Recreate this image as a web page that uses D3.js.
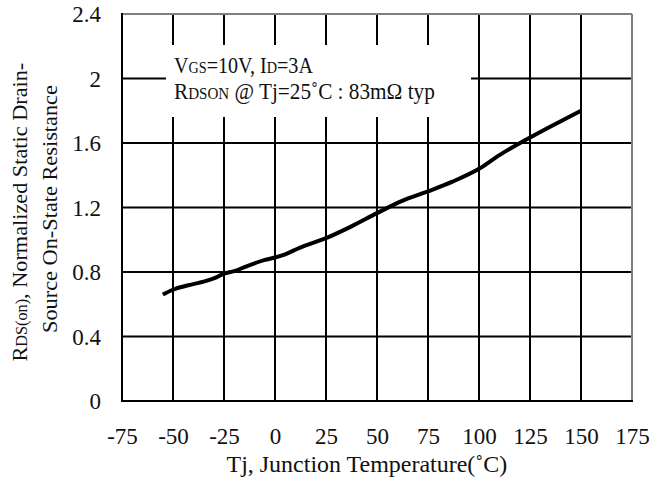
<!DOCTYPE html>
<html>
<head>
<meta charset="utf-8">
<script src="https://cdn.jsdelivr.net/npm/d3@7"></script>
<style>
  html, body { margin: 0; padding: 0; background: #fff; }
  svg { display: block; }
  text { font-family: "Liberation Serif", "Times New Roman", serif; }
</style>
</head>
<body>
<svg id="chart" width="663" height="482"></svg>
<script>
// Normalized on-resistance vs. junction temperature
const temps = [-55, -50, -40, -35, -30, -25, -20, -15, -5, 0, 5, 12, 25, 37, 50, 62, 75, 87, 100, 110, 123, 137, 150];
const rdsNorm = [0.66, 0.69, 0.725, 0.74, 0.76, 0.79, 0.805, 0.83, 0.875, 0.89, 0.91, 0.95, 1.01, 1.08, 1.165, 1.24, 1.30, 1.36, 1.44, 1.525, 1.62, 1.715, 1.80];

const xTicks = [-75, -50, -25, 0, 25, 50, 75, 100, 125, 150, 175];
const yTicks = [0, 0.4, 0.8, 1.2, 1.6, 2.0, 2.4];
const yTickLabels = ["0", "0.4", "0.8", "1.2", "1.6", "2", "2.4"];

const FONT = "Liberation Serif";
const INK = "#111";

const svg = d3.select("#chart");
const margin = { left: 122, right: 31, top: 14, bottom: 81 };
const W = 663, H = 482;

const x = d3.scaleLinear().domain([-75, 175]).range([margin.left, W - margin.right]);
const y = d3.scaleLinear().domain([0, 2.4]).range([H - margin.bottom, margin.top]);

const g = svg.append("g");

// grid
g.selectAll("line.vgrid").data(xTicks.slice(1, -1)).join("line")
  .attr("class", "vgrid")
  .attr("x1", d => x(d)).attr("x2", d => x(d))
  .attr("y1", y(2.4)).attr("y2", y(0))
  .attr("stroke", "#000").attr("stroke-width", 2);
g.selectAll("line.hgrid").data(yTicks.slice(1, -1)).join("line")
  .attr("class", "hgrid")
  .attr("x1", x(-75)).attr("x2", x(175))
  .attr("y1", d => y(d)).attr("y2", d => y(d))
  .attr("stroke", "#000").attr("stroke-width", 2);

// annotation backdrop
g.append("rect")
  .attr("x", 166).attr("y", 45).attr("width", 305).attr("height", 72)
  .attr("fill", "#fff");

// frame: top/right gray, left/bottom black
g.append("line").attr("x1", x(-75)).attr("x2", x(175)).attr("y1", y(2.4)).attr("y2", y(2.4))
  .attr("stroke", "#7f7f7f").attr("stroke-width", 2);
g.append("line").attr("x1", x(175)).attr("x2", x(175)).attr("y1", y(2.4)).attr("y2", y(0))
  .attr("stroke", "#7f7f7f").attr("stroke-width", 2);
g.append("line").attr("x1", x(-75)).attr("x2", x(-75)).attr("y1", y(2.4) - 1).attr("y2", y(0) + 1)
  .attr("stroke", "#000").attr("stroke-width", 2);
g.append("line").attr("x1", x(-75) - 1).attr("x2", x(175) + 1).attr("y1", y(0)).attr("y2", y(0))
  .attr("stroke", "#000").attr("stroke-width", 2);

// curve
const pts = temps.map((t, i) => [t, rdsNorm[i]]);
g.append("path")
  .datum(pts)
  .attr("d", d3.line().x(d => x(d[0])).y(d => y(d[1])).curve(d3.curveMonotoneX))
  .attr("fill", "none").attr("stroke", "#000").attr("stroke-width", 4)
  .attr("stroke-linejoin", "round");

// axes labels
const xAxis = d3.axisBottom(x).tickValues(xTicks).tickSize(0).tickPadding(0).tickFormat(d => String(d));
const xa = svg.append("g").attr("transform", `translate(0,${y(0) + 43})`).call(xAxis)
  .attr("font-family", FONT).attr("font-size", 23);
xa.select(".domain").remove();
xa.selectAll("text").attr("fill", INK).attr("dy", 0);

const yAxis = d3.axisLeft(y).tickValues(yTicks).tickSize(0).tickPadding(0)
  .tickFormat((d, i) => yTickLabels[i]);
const ya = svg.append("g").attr("transform", `translate(${x(-75) - 21},0)`).call(yAxis)
  .attr("font-family", FONT).attr("font-size", 23);
ya.select(".domain").remove();
ya.selectAll("text").attr("fill", INK).attr("dy", "0.34em");

// fit a text block horizontally to a target width, keeping its glyph height
function fitWidth(sel, x0, y0, width, anchorMid, rotate) {
  const w = sel.node().getComputedTextLength();
  const sx = width / w;
  const shift = anchorMid ? -width / 2 : 0;
  const rot = rotate ? ` rotate(${rotate})` : "";
  sel.attr("transform", `translate(${x0},${y0})${rot} translate(${shift},0) scale(${sx},1)`);
}

// x title
const xt = svg.append("text")
  .attr("font-family", FONT).attr("font-size", 23).attr("fill", INK)
  .text("Tj, Junction Temperature(\u02DAC)");
fitWidth(xt, 367, 472, 281, true);

// y title (two lines)
const yt1 = svg.append("text")
  .attr("font-family", FONT).attr("font-size", 22).attr("fill", INK);
yt1.append("tspan").text("R");
yt1.append("tspan").attr("font-size", 16).text("DS(on)");
yt1.append("tspan").text(", Normalized Static Drain-");
fitWidth(yt1, 27, 212, 299, true, -90);

const yt2 = svg.append("text")
  .attr("font-family", FONT).attr("font-size", 22).attr("fill", INK)
  .text("Source On-State Resistance");
fitWidth(yt2, 57, 209, 248, true, -90);

// annotation
const a1 = svg.append("text")
  .attr("font-family", FONT).attr("font-size", 24).attr("fill", INK);
a1.append("tspan").text("V");
a1.append("tspan").attr("font-size", 17).text("GS");
a1.append("tspan").text("=10V, I");
a1.append("tspan").attr("font-size", 17).text("D");
a1.append("tspan").text("=3A");
fitWidth(a1, 174, 73, 139, false);

const a2 = svg.append("text")
  .attr("font-family", FONT).attr("font-size", 24).attr("fill", INK);
a2.append("tspan").text("R");
a2.append("tspan").attr("font-size", 17).text("DSON");
a2.append("tspan").text(" @ Tj=25\u02DAC : 83m\u03A9  typ");
fitWidth(a2, 174, 99, 261, false);
</script>
</body>
</html>
